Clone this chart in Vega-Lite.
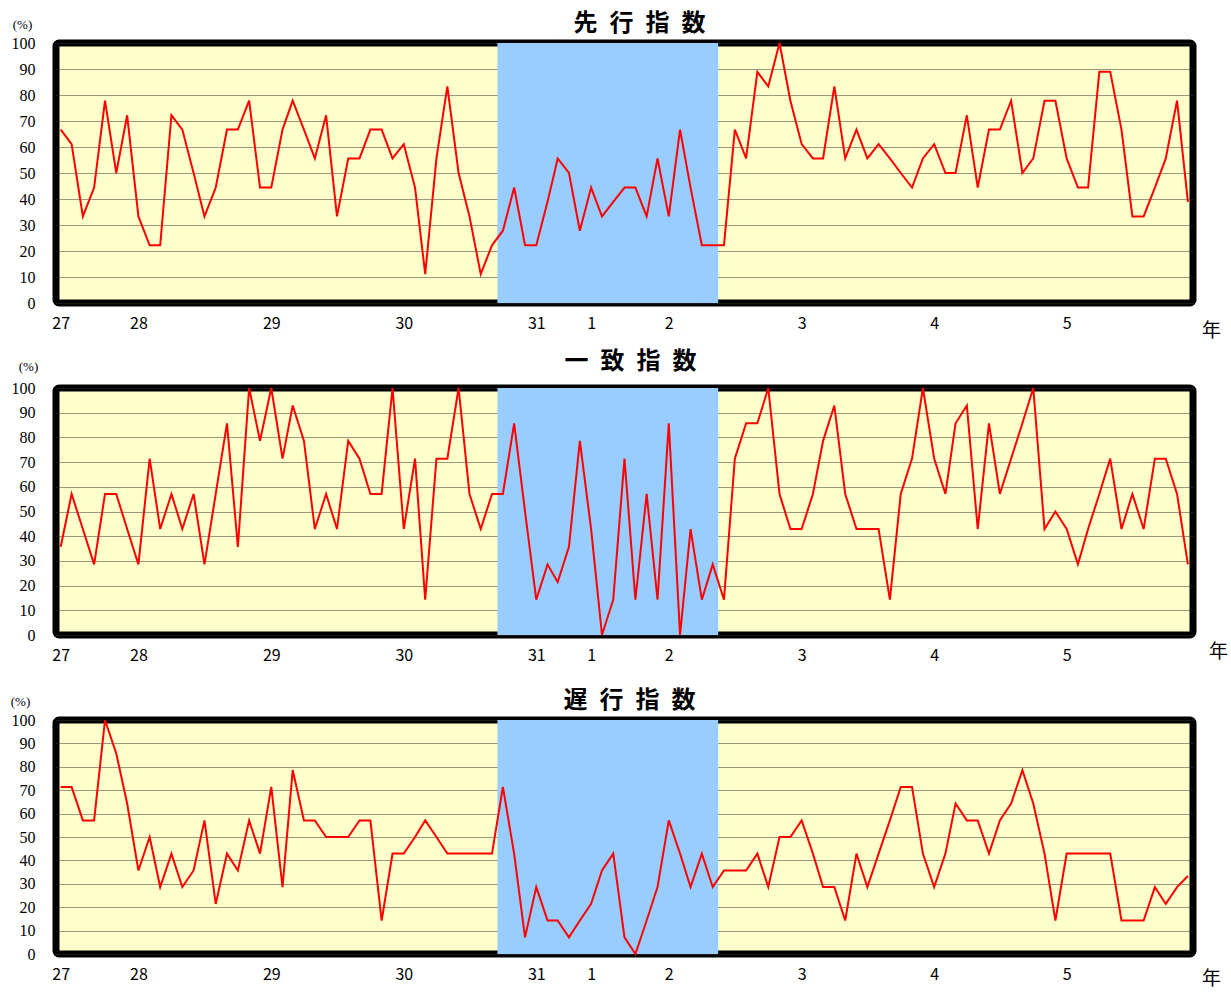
{
  "$schema": "https://vega.github.io/schema/vega-lite/v6.json",
  "background": "white",
  "padding": {"left": 6, "top": 8, "right": 0, "bottom": 0},
  "spacing": 85,
  "bounds": "flush",
  "datasets": {
    "recession": [{"date": "2018-09-16", "end": "2020-05-16"}],
    "di": [
      {"date": "2015-06-01", "leading": 66.7, "coincident": 35.7, "lagging": 71.4},
      {"date": "2015-07-01", "leading": 61.1, "coincident": 57.1, "lagging": 71.4},
      {"date": "2015-08-01", "leading": 33.3, "coincident": 42.9, "lagging": 57.1},
      {"date": "2015-09-01", "leading": 44.4, "coincident": 28.6, "lagging": 57.1},
      {"date": "2015-10-01", "leading": 77.8, "coincident": 57.1, "lagging": 100},
      {"date": "2015-11-01", "leading": 50, "coincident": 57.1, "lagging": 85.7},
      {"date": "2015-12-01", "leading": 72.2, "coincident": 42.9, "lagging": 64.3},
      {"date": "2016-01-01", "leading": 33.3, "coincident": 28.6, "lagging": 35.7},
      {"date": "2016-02-01", "leading": 22.2, "coincident": 71.4, "lagging": 50},
      {"date": "2016-03-01", "leading": 22.2, "coincident": 42.9, "lagging": 28.6},
      {"date": "2016-04-01", "leading": 72.2, "coincident": 57.1, "lagging": 42.9},
      {"date": "2016-05-01", "leading": 66.7, "coincident": 42.9, "lagging": 28.6},
      {"date": "2016-06-01", "leading": 50, "coincident": 57.1, "lagging": 35.7},
      {"date": "2016-07-01", "leading": 33.3, "coincident": 28.6, "lagging": 57.1},
      {"date": "2016-08-01", "leading": 44.4, "coincident": 57.1, "lagging": 21.4},
      {"date": "2016-09-01", "leading": 66.7, "coincident": 85.7, "lagging": 42.9},
      {"date": "2016-10-01", "leading": 66.7, "coincident": 35.7, "lagging": 35.7},
      {"date": "2016-11-01", "leading": 77.8, "coincident": 100, "lagging": 57.1},
      {"date": "2016-12-01", "leading": 44.4, "coincident": 78.6, "lagging": 42.9},
      {"date": "2017-01-01", "leading": 44.4, "coincident": 100, "lagging": 71.4},
      {"date": "2017-02-01", "leading": 66.7, "coincident": 71.4, "lagging": 28.6},
      {"date": "2017-03-01", "leading": 77.8, "coincident": 92.9, "lagging": 78.6},
      {"date": "2017-04-01", "leading": 66.7, "coincident": 78.6, "lagging": 57.1},
      {"date": "2017-05-01", "leading": 55.6, "coincident": 42.9, "lagging": 57.1},
      {"date": "2017-06-01", "leading": 72.2, "coincident": 57.1, "lagging": 50},
      {"date": "2017-07-01", "leading": 33.3, "coincident": 42.9, "lagging": 50},
      {"date": "2017-08-01", "leading": 55.6, "coincident": 78.6, "lagging": 50},
      {"date": "2017-09-01", "leading": 55.6, "coincident": 71.4, "lagging": 57.1},
      {"date": "2017-10-01", "leading": 66.7, "coincident": 57.1, "lagging": 57.1},
      {"date": "2017-11-01", "leading": 66.7, "coincident": 57.1, "lagging": 14.3},
      {"date": "2017-12-01", "leading": 55.6, "coincident": 100, "lagging": 42.9},
      {"date": "2018-01-01", "leading": 61.1, "coincident": 42.9, "lagging": 42.9},
      {"date": "2018-02-01", "leading": 44.4, "coincident": 71.4, "lagging": 50},
      {"date": "2018-03-01", "leading": 11.1, "coincident": 14.3, "lagging": 57.1},
      {"date": "2018-04-01", "leading": 55.6, "coincident": 71.4, "lagging": 50},
      {"date": "2018-05-01", "leading": 83.3, "coincident": 71.4, "lagging": 42.9},
      {"date": "2018-06-01", "leading": 50, "coincident": 100, "lagging": 42.9},
      {"date": "2018-07-01", "leading": 33.3, "coincident": 57.1, "lagging": 42.9},
      {"date": "2018-08-01", "leading": 11.1, "coincident": 42.9, "lagging": 42.9},
      {"date": "2018-09-01", "leading": 22.2, "coincident": 57.1, "lagging": 42.9},
      {"date": "2018-10-01", "leading": 27.8, "coincident": 57.1, "lagging": 71.4},
      {"date": "2018-11-01", "leading": 44.4, "coincident": 85.7, "lagging": 42.9},
      {"date": "2018-12-01", "leading": 22.2, "coincident": 50, "lagging": 7.1},
      {"date": "2019-01-01", "leading": 22.2, "coincident": 14.3, "lagging": 28.6},
      {"date": "2019-02-01", "leading": 38.9, "coincident": 28.6, "lagging": 14.3},
      {"date": "2019-03-01", "leading": 55.6, "coincident": 21.4, "lagging": 14.3},
      {"date": "2019-04-01", "leading": 50, "coincident": 35.7, "lagging": 7.1},
      {"date": "2019-05-01", "leading": 27.8, "coincident": 78.6, "lagging": 14.3},
      {"date": "2019-06-01", "leading": 44.4, "coincident": 42.9, "lagging": 21.4},
      {"date": "2019-07-01", "leading": 33.3, "coincident": 0, "lagging": 35.7},
      {"date": "2019-08-01", "leading": 38.9, "coincident": 14.3, "lagging": 42.9},
      {"date": "2019-09-01", "leading": 44.4, "coincident": 71.4, "lagging": 7.1},
      {"date": "2019-10-01", "leading": 44.4, "coincident": 14.3, "lagging": 0},
      {"date": "2019-11-01", "leading": 33.3, "coincident": 57.1, "lagging": 14.3},
      {"date": "2019-12-01", "leading": 55.6, "coincident": 14.3, "lagging": 28.6},
      {"date": "2020-01-01", "leading": 33.3, "coincident": 85.7, "lagging": 57.1},
      {"date": "2020-02-01", "leading": 66.7, "coincident": 0, "lagging": 42.9},
      {"date": "2020-03-01", "leading": 44.4, "coincident": 42.9, "lagging": 28.6},
      {"date": "2020-04-01", "leading": 22.2, "coincident": 14.3, "lagging": 42.9},
      {"date": "2020-05-01", "leading": 22.2, "coincident": 28.6, "lagging": 28.6},
      {"date": "2020-06-01", "leading": 22.2, "coincident": 14.3, "lagging": 35.7},
      {"date": "2020-07-01", "leading": 66.7, "coincident": 71.4, "lagging": 35.7},
      {"date": "2020-08-01", "leading": 55.6, "coincident": 85.7, "lagging": 35.7},
      {"date": "2020-09-01", "leading": 88.9, "coincident": 85.7, "lagging": 42.9},
      {"date": "2020-10-01", "leading": 83.3, "coincident": 100, "lagging": 28.6},
      {"date": "2020-11-01", "leading": 100, "coincident": 57.1, "lagging": 50},
      {"date": "2020-12-01", "leading": 77.8, "coincident": 42.9, "lagging": 50},
      {"date": "2021-01-01", "leading": 61.1, "coincident": 42.9, "lagging": 57.1},
      {"date": "2021-02-01", "leading": 55.6, "coincident": 57.1, "lagging": 42.9},
      {"date": "2021-03-01", "leading": 55.6, "coincident": 78.6, "lagging": 28.6},
      {"date": "2021-04-01", "leading": 83.3, "coincident": 92.9, "lagging": 28.6},
      {"date": "2021-05-01", "leading": 55.6, "coincident": 57.1, "lagging": 14.3},
      {"date": "2021-06-01", "leading": 66.7, "coincident": 42.9, "lagging": 42.9},
      {"date": "2021-07-01", "leading": 55.6, "coincident": 42.9, "lagging": 28.6},
      {"date": "2021-08-01", "leading": 61.1, "coincident": 42.9, "lagging": 42.9},
      {"date": "2021-09-01", "leading": 55.6, "coincident": 14.3, "lagging": 57.1},
      {"date": "2021-10-01", "leading": 50, "coincident": 57.1, "lagging": 71.4},
      {"date": "2021-11-01", "leading": 44.4, "coincident": 71.4, "lagging": 71.4},
      {"date": "2021-12-01", "leading": 55.6, "coincident": 100, "lagging": 42.9},
      {"date": "2022-01-01", "leading": 61.1, "coincident": 71.4, "lagging": 28.6},
      {"date": "2022-02-01", "leading": 50, "coincident": 57.1, "lagging": 42.9},
      {"date": "2022-03-01", "leading": 50, "coincident": 85.7, "lagging": 64.3},
      {"date": "2022-04-01", "leading": 72.2, "coincident": 92.9, "lagging": 57.1},
      {"date": "2022-05-01", "leading": 44.4, "coincident": 42.9, "lagging": 57.1},
      {"date": "2022-06-01", "leading": 66.7, "coincident": 85.7, "lagging": 42.9},
      {"date": "2022-07-01", "leading": 66.7, "coincident": 57.1, "lagging": 57.1},
      {"date": "2022-08-01", "leading": 77.8, "coincident": 71.4, "lagging": 64.3},
      {"date": "2022-09-01", "leading": 50, "coincident": 85.7, "lagging": 78.6},
      {"date": "2022-10-01", "leading": 55.6, "coincident": 100, "lagging": 64.3},
      {"date": "2022-11-01", "leading": 77.8, "coincident": 42.9, "lagging": 42.9},
      {"date": "2022-12-01", "leading": 77.8, "coincident": 50, "lagging": 14.3},
      {"date": "2023-01-01", "leading": 55.6, "coincident": 42.9, "lagging": 42.9},
      {"date": "2023-02-01", "leading": 44.4, "coincident": 28.6, "lagging": 42.9},
      {"date": "2023-03-01", "leading": 44.4, "coincident": 42.9, "lagging": 42.9},
      {"date": "2023-04-01", "leading": 88.9, "coincident": 57.1, "lagging": 42.9},
      {"date": "2023-05-01", "leading": 88.9, "coincident": 71.4, "lagging": 42.9},
      {"date": "2023-06-01", "leading": 66.7, "coincident": 42.9, "lagging": 14.3},
      {"date": "2023-07-01", "leading": 33.3, "coincident": 57.1, "lagging": 14.3},
      {"date": "2023-08-01", "leading": 33.3, "coincident": 42.9, "lagging": 14.3},
      {"date": "2023-09-01", "leading": 44.4, "coincident": 71.4, "lagging": 28.6},
      {"date": "2023-10-01", "leading": 55.6, "coincident": 71.4, "lagging": 21.4},
      {"date": "2023-11-01", "leading": 77.8, "coincident": 57.1, "lagging": 28.6},
      {"date": "2023-12-01", "leading": 38.9, "coincident": 28.6, "lagging": 33.3}
    ]
  },
  "config": {
    "view": {"fill": "#FFFFCC", "stroke": "#000000", "strokeWidth": 7, "cornerRadius": 3},
    "axis": {"ticks": false, "domain": false, "labelColor": "#000000", "titleColor": "#000000"},
    "axisY": {"grid": true, "gridColor": "#333333", "gridDash": [1, 1], "gridWidth": 1, "labelFont": "Liberation Serif", "labelFontSize": 16, "labelPadding": 21, "titleFont": "Liberation Serif", "titleFontSize": 13, "titleFontWeight": "normal", "titleAngle": 0, "titleAlign": "center", "titleBaseline": "middle"},
    "axisX": {"grid": false, "labelFont": "Noto Sans CJK JP", "labelFontSize": 16, "labelPadding": 20, "labelBaseline": "middle", "labelFlush": false, "labelOverlap": false, "labelBound": false, "titleFont": "Noto Sans CJK JP", "titleFontSize": 19, "titleFontWeight": "normal", "titleAlign": "center", "titleBaseline": "middle"},
    "title": {"font": "Noto Sans CJK JP", "fontSize": 24, "fontWeight": "bold", "color": "#000000", "frame": "group", "anchor": "middle"}
  },
  "vconcat": [
    {
      "width": 1137,
      "height": 260,
      "title": {"text": "先\u2002行\u2002指\u2002数", "dx": 15, "offset": -18},
      "encoding": {
        "x": {
          "field": "date", "type": "temporal",
          "scale": {"type": "utc", "nice": false, "domain": [{"year": 2015, "month": 5, "date": 19, "utc": true}, {"year": 2023, "month": 12, "date": 15, "utc": true}]},
          "axis": {
            "values": [{"year": 2015, "month": 6, "date": 1, "utc": true}, {"year": 2016, "month": 1, "date": 1, "utc": true}, {"year": 2017, "month": 1, "date": 1, "utc": true}, {"year": 2018, "month": 1, "date": 1, "utc": true}, {"year": 2019, "month": 1, "date": 1, "utc": true}, {"year": 2019, "month": 6, "date": 1, "utc": true}, {"year": 2020, "month": 1, "date": 1, "utc": true}, {"year": 2021, "month": 1, "date": 1, "utc": true}, {"year": 2022, "month": 1, "date": 1, "utc": true}, {"year": 2023, "month": 1, "date": 1, "utc": true}],
            "labelExpr": "utcyear(datum.value) == 2019 && utcmonth(datum.value) == 5 ? '1' : utcyear(datum.value) <= 2019 ? toString(utcyear(datum.value) - 1988) : toString(utcyear(datum.value) - 2018)",
            "title": "年", "titleX": 1155, "titleY": 27
          }
        }
      },
      "layer": [
        {
          "data": {"name": "recession"},
          "mark": {"type": "rect", "color": "#99CCFF"},
          "encoding": {"x2": {"field": "end"}}
        },
        {
          "data": {"name": "di"},
          "mark": {"type": "line", "color": "#FF0000", "strokeWidth": 2},
          "encoding": {
            "y": {
              "field": "leading", "type": "quantitative",
              "scale": {"domain": [0, 100], "nice": false},
              "axis": {"values": [0, 10, 20, 30, 40, 50, 60, 70, 80, 90, 100], "title": "(%)", "titleX": -34, "titleY": -19}
            }
          }
        }
      ]
    },
    {
      "width": 1137,
      "height": 247,
      "title": {"text": "一\u2002致\u2002指\u2002数", "dx": 6, "offset": -14},
      "encoding": {
        "x": {
          "field": "date", "type": "temporal",
          "scale": {"type": "utc", "nice": false, "domain": [{"year": 2015, "month": 5, "date": 19, "utc": true}, {"year": 2023, "month": 12, "date": 15, "utc": true}]},
          "axis": {
            "values": [{"year": 2015, "month": 6, "date": 1, "utc": true}, {"year": 2016, "month": 1, "date": 1, "utc": true}, {"year": 2017, "month": 1, "date": 1, "utc": true}, {"year": 2018, "month": 1, "date": 1, "utc": true}, {"year": 2019, "month": 1, "date": 1, "utc": true}, {"year": 2019, "month": 6, "date": 1, "utc": true}, {"year": 2020, "month": 1, "date": 1, "utc": true}, {"year": 2021, "month": 1, "date": 1, "utc": true}, {"year": 2022, "month": 1, "date": 1, "utc": true}, {"year": 2023, "month": 1, "date": 1, "utc": true}],
            "labelExpr": "utcyear(datum.value) == 2019 && utcmonth(datum.value) == 5 ? '1' : utcyear(datum.value) <= 2019 ? toString(utcyear(datum.value) - 1988) : toString(utcyear(datum.value) - 2018)",
            "title": "年", "titleX": 1162, "titleY": 16
          }
        }
      },
      "layer": [
        {
          "data": {"name": "recession"},
          "mark": {"type": "rect", "color": "#99CCFF"},
          "encoding": {"x2": {"field": "end"}}
        },
        {
          "data": {"name": "di"},
          "mark": {"type": "line", "color": "#FF0000", "strokeWidth": 2},
          "encoding": {
            "y": {
              "field": "coincident", "type": "quantitative",
              "scale": {"domain": [0, 100], "nice": false},
              "axis": {"values": [0, 10, 20, 30, 40, 50, 60, 70, 80, 90, 100], "title": "(%)", "titleX": -28, "titleY": -22}
            }
          }
        }
      ]
    },
    {
      "width": 1137,
      "height": 234,
      "title": {"text": "遅\u2002行\u2002指\u2002数", "dx": 5, "offset": -18},
      "encoding": {
        "x": {
          "field": "date", "type": "temporal",
          "scale": {"type": "utc", "nice": false, "domain": [{"year": 2015, "month": 5, "date": 19, "utc": true}, {"year": 2023, "month": 12, "date": 15, "utc": true}]},
          "axis": {
            "values": [{"year": 2015, "month": 6, "date": 1, "utc": true}, {"year": 2016, "month": 1, "date": 1, "utc": true}, {"year": 2017, "month": 1, "date": 1, "utc": true}, {"year": 2018, "month": 1, "date": 1, "utc": true}, {"year": 2019, "month": 1, "date": 1, "utc": true}, {"year": 2019, "month": 6, "date": 1, "utc": true}, {"year": 2020, "month": 1, "date": 1, "utc": true}, {"year": 2021, "month": 1, "date": 1, "utc": true}, {"year": 2022, "month": 1, "date": 1, "utc": true}, {"year": 2023, "month": 1, "date": 1, "utc": true}],
            "labelExpr": "utcyear(datum.value) == 2019 && utcmonth(datum.value) == 5 ? '1' : utcyear(datum.value) <= 2019 ? toString(utcyear(datum.value) - 1988) : toString(utcyear(datum.value) - 2018)",
            "title": "年", "titleX": 1155, "titleY": 24
          }
        }
      },
      "layer": [
        {
          "data": {"name": "recession"},
          "mark": {"type": "rect", "color": "#99CCFF"},
          "encoding": {"x2": {"field": "end"}}
        },
        {
          "data": {"name": "di"},
          "mark": {"type": "line", "color": "#FF0000", "strokeWidth": 2},
          "encoding": {
            "y": {
              "field": "lagging", "type": "quantitative",
              "scale": {"domain": [0, 100], "nice": false},
              "axis": {"values": [0, 10, 20, 30, 40, 50, 60, 70, 80, 90, 100], "title": "(%)", "titleX": -36, "titleY": -19}
            }
          }
        }
      ]
    }
  ]
}
